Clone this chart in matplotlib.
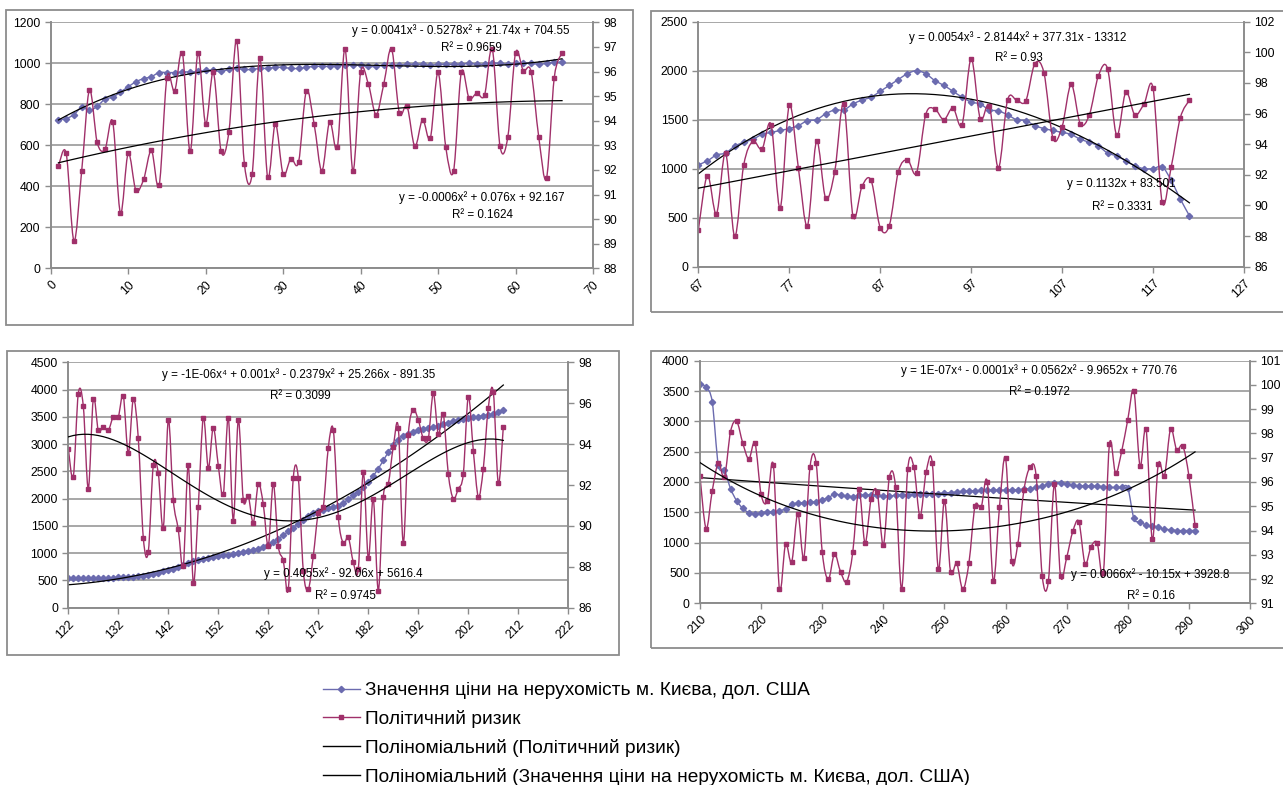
import numpy as np
import matplotlib
matplotlib.use('Agg')
import matplotlib.pyplot as plt
from matplotlib.path import Path
from matplotlib.patches import PathPatch, Rectangle
from matplotlib.lines import Line2D

W, H = 1283, 785

# ---- panel 1: x = 1..66
x1 = list(range(1, 67))
price1 = [725, 730, 750, 785, 770, 790, 825, 835, 860, 885,
          910, 925, 935, 955, 955, 955, 958, 958, 960, 965,
          965, 960, 970, 975, 970, 970, 975, 975, 980, 980,
          975, 975, 980, 985, 985, 985, 988, 990, 990, 990,
          985, 985, 990, 990, 990, 995, 995, 995, 990, 995,
          995, 995, 995, 1000, 995, 995, 1000, 1000, 995, 1000,
          1000, 1000, 995, 1000, 1005, 1005]
risk1 = [92.17, 92.67, 89.12, 91.96, 95.25, 93.12, 92.83, 93.96, 90.25, 92.67,
         91.17, 91.62, 92.79, 91.37, 95.75, 95.21, 96.75, 92.75, 96.75, 93.87,
         95.96, 92.75, 93.54, 97.25, 92.25, 91.83, 96.54, 91.71, 93.87, 91.83,
         92.46, 92.33, 95.21, 93.87, 91.96, 93.96, 92.92, 96.92, 91.96, 95.96,
         95.5, 94.25, 95.5, 96.92, 94.33, 94.58, 92.96, 94.04, 93.29, 95.96,
         92.92, 91.96, 95.96, 94.92, 95.12, 95.04, 96.92, 92.96, 93.33, 96.75,
         96.04, 96.0, 93.33, 91.67, 95.75, 96.75]

# ---- panel 2: x = 67..121
x2 = list(range(67, 122))
price2 = [1040, 1080, 1140, 1160, 1230, 1270, 1300, 1350, 1370, 1390,
          1410, 1440, 1490, 1500, 1560, 1600, 1600, 1660, 1700, 1730,
          1790, 1850, 1910, 1970, 2000, 1970, 1900, 1850, 1790, 1730,
          1680, 1660, 1600, 1590, 1550, 1500, 1490, 1440, 1410, 1390,
          1370, 1350, 1300, 1270, 1230, 1160, 1130, 1080, 1030, 1000,
          1000, 1020, 880, 690, 520]
risk2 = [88.37, 91.95, 89.46, 93.42, 87.98, 92.66, 94.19, 93.68, 95.28, 89.84,
         96.56, 92.46, 88.69, 94.19, 90.48, 92.21, 96.62, 89.33, 91.25, 91.63,
         88.56, 88.69, 92.21, 92.98, 92.14, 95.92, 96.3, 95.6, 96.37, 95.28,
         99.57, 95.66, 96.5, 92.46, 96.88, 96.88, 96.82, 99.25, 98.67, 94.38,
         95.15, 97.9, 95.34, 95.92, 98.48, 98.93, 94.58, 97.39, 95.92, 96.62,
         97.65, 90.22, 92.53, 95.73, 96.88]

# ---- panel 3: x = 122..209
x3 = list(range(122, 210))
price3 = [540, 540, 540, 540, 540, 540, 540, 540,
          545, 550, 555, 560, 565, 570, 580, 590, 605, 620,
          640, 665, 690, 715, 745, 780, 820, 850, 880, 900,
          915, 930, 945, 960, 975, 990, 1005, 1020, 1040, 1060,
          1085, 1115, 1150, 1200, 1260, 1330, 1400, 1470, 1540, 1610,
          1680, 1730, 1770, 1800, 1820, 1840, 1870, 1920, 1990, 2060,
          2130, 2210, 2310, 2420, 2550, 2700, 2850, 2980, 3080, 3140,
          3190, 3230, 3255, 3275, 3295, 3310, 3330, 3365, 3390, 3420,
          3440, 3460, 3475, 3495, 3505, 3520, 3535, 3555, 3580, 3620]
risk3 = [93.78, 92.41, 96.47, 95.86, 91.82, 96.19, 94.67, 94.84, 94.67, 95.34,
         95.34, 96.35, 93.55, 96.19, 94.28, 89.42, 88.74, 92.96, 92.57, 89.91,
         95.18, 91.27, 89.83, 88.04, 92.96, 87.22, 90.94, 95.29, 92.83, 94.81,
         92.95, 91.54, 95.29, 90.26, 95.18, 91.27, 91.46, 90.16, 92.05, 91.05,
         89.02, 92.06, 89.02, 88.31, 86.9, 92.36, 92.36, 87.81, 86.9, 88.54,
         90.65, 90.94, 93.83, 94.69, 90.45, 89.15, 89.44, 88.23, 87.89, 92.63,
         88.41, 91.33, 86.83, 91.43, 92.05, 93.87, 94.81, 89.15, 94.45, 95.67,
         95.18, 94.28, 94.28, 96.48, 94.48, 95.46, 92.54, 91.33, 91.82, 92.54,
         96.32, 93.68, 91.43, 92.8, 95.78, 96.55, 92.08, 94.84]

# ---- panel 4: x = 210..291
x4 = list(range(210, 292))
price4 = [3620, 3560, 3320, 2280, 2200, 1890, 1690, 1565, 1495, 1480,
          1490, 1505, 1510, 1525, 1560, 1630, 1655, 1660, 1670, 1675,
          1710, 1740, 1800, 1785, 1770, 1760, 1780, 1785, 1785, 1780,
          1770, 1770, 1780, 1785, 1790, 1795, 1800, 1800, 1810, 1810,
          1820, 1825, 1835, 1845, 1850, 1855, 1860, 1865, 1865, 1865,
          1865, 1870, 1870, 1880, 1890, 1910, 1935, 1960, 1980, 1990,
          1965, 1945, 1935, 1935, 1935, 1930, 1925, 1910, 1910, 1910,
          1905, 1400, 1345, 1290, 1275, 1250, 1220, 1215, 1200, 1200,
          1200, 1200]
risk4 = [96.23, 94.08, 95.63, 96.78, 96.21, 98.08, 98.5, 97.6, 96.95, 97.6,
         95.49, 95.2, 96.71, 91.58, 93.44, 92.7, 94.7, 92.88, 96.62, 96.78,
         93.12, 91.99, 93.03, 92.3, 91.89, 93.11, 95.71, 93.49, 95.29, 95.59,
         93.4, 96.21, 95.8, 91.58, 96.54, 96.62, 94.59, 96.4, 96.8, 92.4,
         95.22, 92.3, 92.65, 91.58, 92.65, 95.0, 94.95, 96.02, 91.92, 94.95,
         96.98, 92.75, 93.44, 95.66, 96.6, 96.26, 92.13, 91.9, 95.91, 92.13,
         92.89, 93.96, 94.36, 92.64, 93.34, 93.48, 92.25, 97.56, 96.37, 97.26,
         98.57, 99.76, 96.67, 98.18, 93.64, 96.74, 96.26, 98.18, 97.33, 97.49,
         96.26, 94.22]

price_label = 'Значення ціни на нерухомість м. Києва, дол. США'
risk_label = 'Політичний ризик'
trend_risk_label = 'Поліноміальний (Політичний ризик)'
trend_price_label = 'Поліноміальний (Значення ціни на нерухомість м. Києва, дол. США)'

PRICE_C = '#6B6BAF'
RISK_C = '#A0306A'
GRID_C = '#A0A0A0'
AXIS_C = '#8C8C8C'
FONT = ['Liberation Sans', 'DejaVu Sans']

plt.rcParams['font.family'] = FONT

fig = plt.figure(figsize=(W / 100, H / 100), dpi=100)


def smooth_path(x, y):
    # Excel-like smoothed line: bezier segments through the data points
    pts = np.column_stack([x, y]).astype(float)
    n = len(pts)
    verts = [pts[0]]
    codes = [Path.MOVETO]
    for i in range(n - 1):
        p0 = pts[i - 1] if i > 0 else pts[i]
        p1 = pts[i]
        p2 = pts[i + 1]
        p3 = pts[i + 2] if i + 2 < n else p2
        verts += [p1 + (p2 - p0) / 6, p2 - (p3 - p1) / 6, p2]
        codes += [Path.CURVE4] * 3
    return Path(verts, codes)


def trend(x, y, deg):
    fit = np.polynomial.Polynomial.fit(x, y, deg)
    return fit(np.asarray(x, dtype=float))


def panel(rect, frame, x, price, risk, deg_p, deg_r, xlim, xstep,
          ylim_l, step_l, ylim_r, step_r, eqs):
    l, r, t, b = rect
    fl, fr, ft, fb = frame
    fig.patches.append(Rectangle((fl / W, 1 - fb / H), (fr - fl) / W, (fb - ft) / H,
                                 transform=fig.transFigure, fill=False,
                                 ec=AXIS_C, lw=1.3))
    ax = fig.add_axes([l / W, 1 - b / H, (r - l) / W, (b - t) / H])
    ax2 = ax.twinx()

    ax.set_xlim(*xlim)
    ax.set_xticks(np.arange(xlim[0], xlim[1] + 1, xstep))
    ax.set_ylim(*ylim_l)
    ax.set_yticks(np.arange(ylim_l[0], ylim_l[1] + 1, step_l))
    ax2.set_ylim(*ylim_r)
    ax2.set_yticks(np.arange(ylim_r[0], ylim_r[1] + 0.01, step_r))

    ax.yaxis.grid(True, color=GRID_C, lw=1.3)
    ax.set_axisbelow(True)
    for a in (ax, ax2):
        for s in a.spines.values():
            s.set_color(AXIS_C)
            s.set_linewidth(1.2)
        a.spines['top'].set_visible(False)
        a.tick_params(colors=AXIS_C, labelcolor='black', labelsize=8.8,
                      length=4, width=1.0, direction='out')
    for lab in ax.get_xticklabels():
        lab.set_rotation(45)
        lab.set_ha('right')
        lab.set_rotation_mode('anchor')

    ax.add_patch(PathPatch(smooth_path(x, price), fill=False, ec=PRICE_C, lw=1.0))
    ax.plot(x, price, ls='none', marker='D', ms=3.2, color=PRICE_C, mec=PRICE_C)
    ax.plot(x, trend(x, price, deg_p), color='black', lw=0.9, zorder=4)

    ax2.add_patch(PathPatch(smooth_path(x, risk), fill=False, ec=RISK_C, lw=1.0))
    ax2.plot(x, risk, ls='none', marker='s', ms=3.2, color=RISK_C, mec=RISK_C)
    ax2.plot(x, trend(x, risk, deg_r), color='black', lw=0.9, zorder=4)

    for txt, cx, cy in eqs:
        fig.text(cx / W, 1 - cy / H, txt, ha='center', va='center', fontsize=8.4)
    return ax


panel((50.7, 593, 22.3, 268.3), (6, 633, 10, 325), x1, price1, risk1, 3, 2,
      (0, 70), 10, (0, 1200), 200, (88, 98), 1,
      [('y = 0.0041x³ - 0.5278x² + 21.74x + 704.55', 461, 31),
       ('R² = 0.9659', 471, 48),
       ('y = -0.0006x² + 0.076x + 92.167', 482, 198),
       ('R² = 0.1624', 482, 215)])

panel((698.3, 1244, 21.7, 266.7), (651, 1295, 11, 312), x2, price2, risk2, 3, 1,
      (67, 127), 10, (0, 2500), 500, (86, 102), 2,
      [('y = 0.0054x³ - 2.8144x² + 377.31x - 13312', 1018, 38),
       ('R² = 0.93', 1019, 58),
       ('y = 0.1132x + 83.501', 1121, 184),
       ('R² = 0.3331', 1122, 207)])

panel((68.3, 568.3, 362.3, 607.7), (7, 619, 351, 655), x3, price3, risk3, 2, 4,
      (122, 222), 10, (0, 4500), 500, (86, 98), 2,
      [('y = -1E-06x⁴ + 0.001x³ - 0.2379x² + 25.266x - 891.35', 299, 375),
       ('R² = 0.3099', 300, 396),
       ('y = 0.4055x² - 92.06x + 5616.4', 343, 574),
       ('R² = 0.9745', 345, 596)])

panel((700, 1250, 360.7, 603.3), (651, 1295, 351, 648), x4, price4, risk4, 2, 4,
      (210, 300), 10, (0, 4000), 500, (91, 101), 1,
      [('y = 1E-07x⁴ - 0.0001x³ + 0.0562x² - 9.9652x + 770.76', 1039, 371),
       ('R² = 0.1972', 1039, 392),
       ('y = 0.0066x² - 10.15x + 3928.8', 1150, 575),
       ('R² = 0.16', 1151, 596)])

handles = [Line2D([], [], color=PRICE_C, marker='D', ms=3.2, lw=1.0),
           Line2D([], [], color=RISK_C, marker='s', ms=3.2, lw=1.0),
           Line2D([], [], color='black', lw=1.0),
           Line2D([], [], color='black', lw=1.0)]
fig.legend(handles, [price_label, risk_label, trend_risk_label, trend_price_label],
           loc='upper left', bbox_to_anchor=(323 / W, 1 - 682 / H),
           frameon=False, fontsize=13.8, handlelength=1.93, handletextpad=0.26,
           labelspacing=0.56, borderpad=0, borderaxespad=0)

fig.savefig('out.png', dpi=100)
